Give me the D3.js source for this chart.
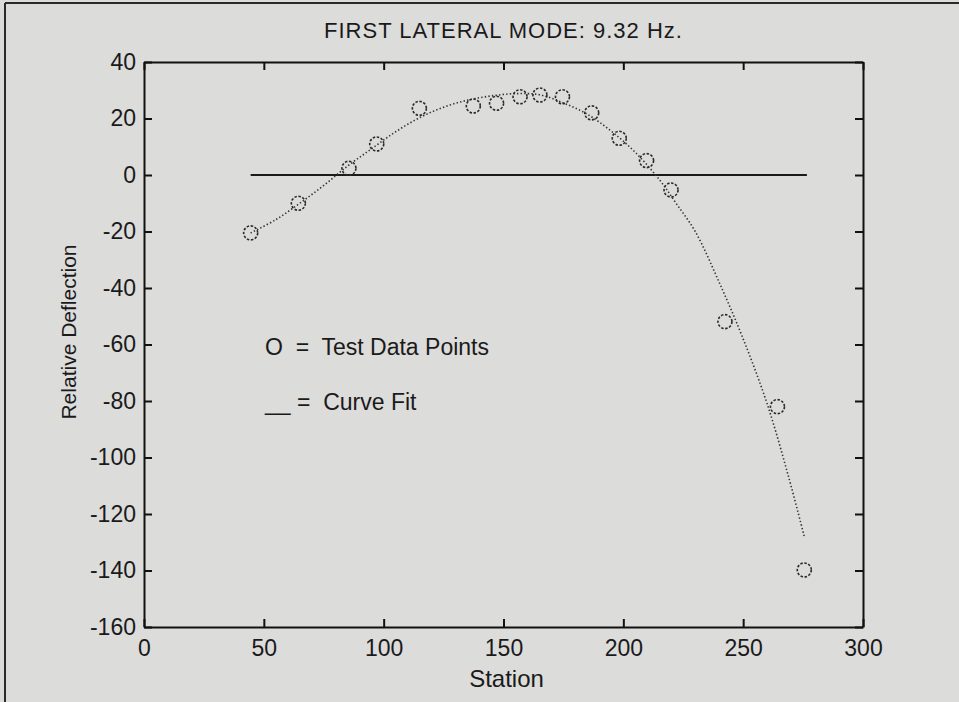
<!DOCTYPE html>
<html>
<head>
<meta charset="utf-8">
<script src="https://cdn.jsdelivr.net/npm/d3@7/dist/d3.min.js"></script>
<style>
  html, body { margin: 0; padding: 0; background: #dcdcda; }
  svg { display: block; font-family: "Liberation Sans", Arial, sans-serif; }
</style>
</head>
<body>
<svg id="chart" width="959" height="702"></svg>
<script>
// ---- data ----
const title = "FIRST LATERAL MODE: 9.32 Hz.";
const xLabel = "Station";
const yLabel = "Relative Deflection";
const xTicks = [0, 50, 100, 150, 200, 250, 300];
const yTicks = [40, 20, 0, -20, -40, -60, -80, -100, -120, -140, -160];

const stations   = [44.5, 64.4, 85.5, 97.1, 114.9, 137.4, 147.1, 156.9, 165.2, 174.6, 186.8, 198.3, 209.7, 219.9, 242.4, 264.3, 275.5];
const deflection = [-20.5, -10, 2.4, 11, 23.6, 24.4, 25.4, 27.7, 28.3, 27.7, 22, 13, 5.1, -5.3, -51.9, -82, -139.8];

const fitX = [44.5, 55, 65, 75, 85, 95, 105, 115, 125, 135, 145, 155, 165, 175, 185, 195, 205, 215, 222, 230, 240, 250, 260, 269, 275.5];
const fitY = [-20.5, -15.8, -10, -3.7, 3.2, 9.3, 15.3, 20.3, 24, 26.5, 28, 28.8, 28.4, 25.5, 21.5, 15.5, 8, -1.6, -10, -20, -38, -58, -81, -107, -128];

const zeroLineX = [44.5, 276.6];
const zeroLineY = [0, 0];

const legendItems = ["O  =  Test Data Points", "__ =  Curve Fit"];
const legendX = 50.5;
const legendY = [-63.7, -83.2];

// ---- layout ----
const svg = d3.select("#chart");
const L = 144, R = 863, T = 62, B = 627;
const x = d3.scaleLinear().domain([0, 300]).range([L, R]);
const y = d3.scaleLinear().domain([-160, 40]).range([B, T]);

// outer frame edges (scan border)
svg.append("line").attr("x1", 5).attr("x2", 959).attr("y1", 3).attr("y2", 3)
  .attr("stroke", "#2a2a2a").attr("stroke-width", 2);
svg.append("line").attr("x1", 5).attr("x2", 5).attr("y1", 3).attr("y2", 702)
  .attr("stroke", "#2a2a2a").attr("stroke-width", 2);

const fontSize = 23;

// axes
const gB = svg.append("g").attr("transform", `translate(0,${B})`)
  .call(d3.axisBottom(x).tickValues(xTicks).tickSizeInner(-8).tickSizeOuter(0).tickPadding(13));
const gL = svg.append("g").attr("transform", `translate(${L},0)`)
  .call(d3.axisLeft(y).tickValues(yTicks).tickSizeInner(-8).tickSizeOuter(0).tickPadding(8));
const gT = svg.append("g").attr("transform", `translate(0,${T})`)
  .call(d3.axisTop(x).tickValues(xTicks).tickSizeInner(-8).tickSizeOuter(0).tickFormat(""));
const gR = svg.append("g").attr("transform", `translate(${R},0)`)
  .call(d3.axisRight(y).tickValues(yTicks).tickSizeInner(-8).tickSizeOuter(0).tickFormat(""));

[gB, gL, gT, gR].forEach(g => {
  g.select(".domain").attr("stroke", "#111").attr("stroke-width", 2);
  g.selectAll(".tick line").attr("stroke", "#111").attr("stroke-width", 2);
  g.selectAll(".tick text").attr("fill", "#1a1a1a").style("font-size", fontSize + "px")
    .style("font-family", '"Liberation Sans", Arial, sans-serif');
});
gL.selectAll(".tick text").text(d => d < 0 ? "-" + Math.abs(d) : d);

// zero line
svg.append("line")
  .attr("x1", x(zeroLineX[0])).attr("x2", x(zeroLineX[1]))
  .attr("y1", y(zeroLineY[0])).attr("y2", y(zeroLineY[1]))
  .attr("stroke", "#1a1a1a").attr("stroke-width", 2);

// curve fit (dotted)
const fitData = fitX.map((d, i) => [d, fitY[i]]);
svg.append("path")
  .datum(fitData)
  .attr("fill", "none")
  .attr("stroke", "#333")
  .attr("stroke-width", 1.6)
  .attr("stroke-dasharray", "1.4,2.2")
  .attr("d", d3.line().x(d => x(d[0])).y(d => y(d[1])).curve(d3.curveCatmullRom));

// test data points (circles)
const pts = stations.map((d, i) => [d, deflection[i]]);
svg.append("g").selectAll("circle").data(pts).join("circle")
  .attr("cx", d => x(d[0])).attr("cy", d => y(d[1])).attr("r", 7)
  .attr("fill", "none").attr("stroke", "#2a2a2a").attr("stroke-width", 1.6)
  .attr("stroke-dasharray", "2.5,1.6");

// legend text
svg.append("g").selectAll("text").data(legendItems).join("text")
  .attr("x", x(legendX)).attr("y", (d, i) => y(legendY[i]))
  .attr("xml:space", "preserve").style("white-space", "pre")
  .attr("fill", "#1a1a1a").style("font-size", fontSize + "px")
  .text(d => d);

// title
svg.append("text").attr("x", (L + R) / 2).attr("y", 38)
  .attr("text-anchor", "middle").attr("fill", "#1a1a1a")
  .style("font-size", "22px").style("letter-spacing", "1px")
  .text(title);

// x label
svg.append("text").attr("x", (L + R) / 2 + 3).attr("y", 687)
  .attr("text-anchor", "middle").attr("fill", "#1a1a1a")
  .style("font-size", "24px").text(xLabel);

// y label
svg.append("text").attr("transform", "translate(76,332) rotate(-90)")
  .attr("text-anchor", "middle").attr("fill", "#1a1a1a")
  .style("font-size", "21px").text(yLabel);
</script>
</body>
</html>
